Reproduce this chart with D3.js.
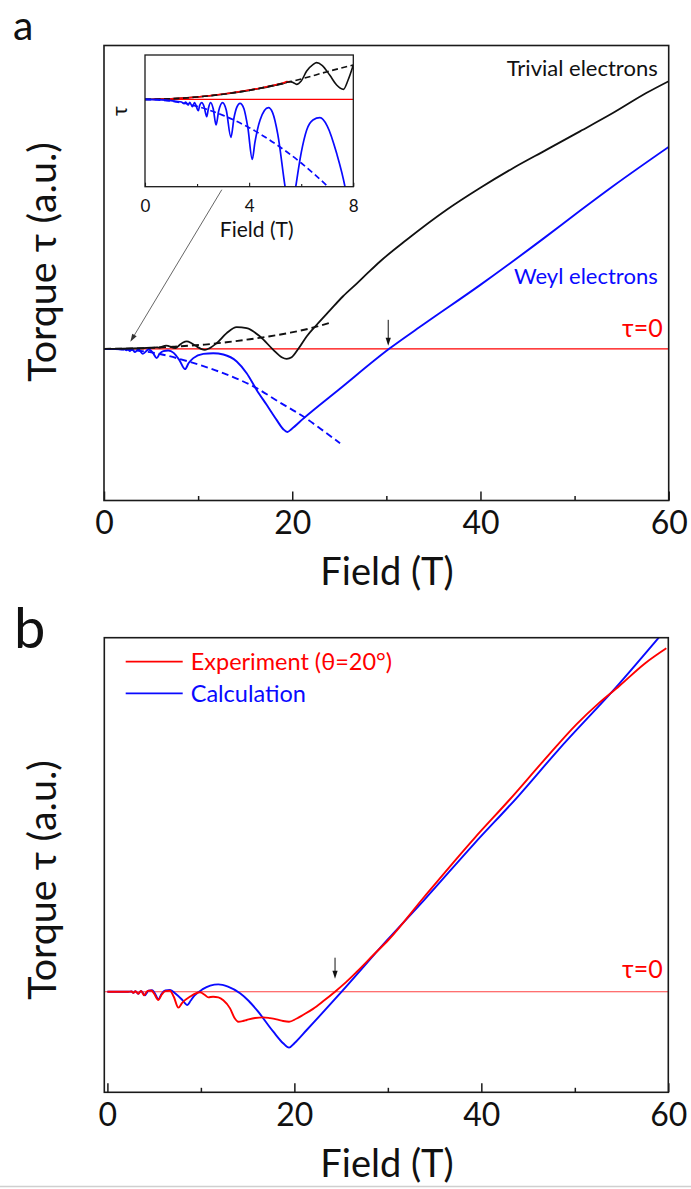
<!DOCTYPE html>
<html><head><meta charset="utf-8">
<script src="https://cdn.jsdelivr.net/npm/d3@7"></script>
<style>
html,body{margin:0;padding:0;background:#fff;}
svg{display:block;}
text{font-family:Lato,"Noto Sans",sans-serif;}
</style></head><body>
<svg id="fig" width="691" height="1189"></svg>
<script>
// ---------- panel a : torque vs field (arbitrary units) ----------
const trivialField  = [0, 2, 4, 5, 5.6, 5.8, 6.6, 7.6, 8.0, 8.4, 8.79, 9.3, 9.85, 10.3, 10.73, 11.2, 11.97, 13.03, 14.1, 15.16, 16.58, 17.99, 18.88, 19.41, 19.94, 20.65, 21.53, 22.6, 24.0, 25.4, 26.85, 28.0, 29.33, 32.16, 36.41, 39.95, 43.49, 47.04, 50.57, 54.11, 57.66, 60];
const trivialTorque = [0, 0.001, 0.006, 0.011, 0.015, 0.012, 0.031, 0.008, 0.035, 0.062, 0.073, 0.055, 0.023, 0.0, -0.01, 0.005, 0.056, 0.155, 0.215, 0.205, 0.122, -0.01, -0.083, -0.099, -0.083, 0.0, 0.122, 0.238, 0.38, 0.52, 0.645, 0.748, 0.864, 1.079, 1.376, 1.591, 1.789, 1.970, 2.151, 2.334, 2.532, 2.647];

const trivialBgField  = [0, 3, 5, 7.5, 10.7, 13, 15.5, 17.5, 19.8, 22, 24.2];
const trivialBgTorque = [0, 0.003, 0.009, 0.022, 0.042, 0.065, 0.095, 0.122, 0.160, 0.205, 0.264];

const weylField  = [0, 1, 1.5, 2.05, 2.18, 2.37, 2.52, 2.73, 2.98, 3.30, 3.65, 4.12, 4.74, 5.2, 5.6, 5.9, 6.3, 6.83, 7.4, 8.0, 8.61, 9.0, 9.49, 10.55, 11.61, 12.68, 14.1, 15.16, 16.22, 17.28, 18.34, 19.05, 19.48, 19.94, 21.18, 25.0, 30.3, 34.0, 39.95, 46.68, 50.57, 54.11, 60];
const weylTorque = [0, -0.001, -0.003, -0.009, -0.003, -0.014, -0.003, -0.021, -0.003, -0.032, -0.004, -0.05, -0.007, -0.04, -0.092, -0.05, -0.022, -0.017, -0.04, -0.11, -0.201, -0.14, -0.092, -0.05, -0.043, -0.056, -0.125, -0.241, -0.406, -0.554, -0.703, -0.795, -0.822, -0.792, -0.69, -0.40, 0.0, 0.245, 0.63, 1.09, 1.365, 1.61, 1.997];

const weylBgField  = [0, 3, 5.6, 9.14, 12.5, 16.22, 18.5, 21.18, 23, 25.08];
const weylBgTorque = [0, -0.012, -0.045, -0.13, -0.235, -0.389, -0.52, -0.67, -0.79, -0.934];

// ---------- inset : low-field detail ----------
const insetTrivialField  = [0, 1, 2, 3, 4, 4.5, 5, 5.3, 5.57, 5.7, 5.82, 6.0, 6.21, 6.45, 6.59, 6.8, 7.1, 7.36, 7.62, 7.8, 8.0];
const insetTrivialTorque = [0, 0.017, 0.07, 0.155, 0.27, 0.34, 0.42, 0.47, 0.53, 0.50, 0.45, 0.55, 0.85, 1.04, 1.10, 1.02, 0.72, 0.43, 0.30, 0.58, 1.03];

const insetTrivialBgField  = [0, 1, 2, 3, 4, 5, 6, 7, 8];
const insetTrivialBgTorque = [0, 0.017, 0.07, 0.155, 0.27, 0.43, 0.61, 0.83, 1.03];

const insetExpField  = [0.3, 1, 2, 3, 4, 4.5, 4.8, 5.1, 5.3, 5.45, 5.57];
const insetExpTorque = [0, 0.018, 0.07, 0.16, 0.28, 0.35, 0.40, 0.45, 0.49, 0.53, 0.52];

const insetWeylField  = [0, 0.5, 1.0, 1.2, 1.4, 1.5, 1.56, 1.66, 1.72, 1.82, 1.9, 2.05, 2.1, 2.18, 2.27, 2.37, 2.44, 2.52, 2.62, 2.73, 2.83, 2.98, 3.12, 3.30, 3.42, 3.52, 3.65, 3.8, 3.95, 4.12, 4.22, 4.42, 4.74, 4.9, 5.1, 5.38, 5.6, 5.79, 6.0, 6.21, 6.45, 6.72, 7.0, 7.36, 7.68, 8.0];
const insetWeylTorque = [0, -0.01, -0.04, -0.06, -0.08, -0.13, -0.08, -0.17, -0.09, -0.22, -0.10, -0.34, -0.18, -0.10, -0.22, -0.52, -0.25, -0.10, -0.28, -0.77, -0.35, -0.10, -0.32, -1.14, -0.55, -0.25, -0.12, -0.28, -0.85, -1.80, -1.3, -0.62, -0.25, -0.40, -1.05, -2.62, -3.6, -2.62, -1.6, -0.92, -0.62, -0.55, -0.8, -1.62, -2.62, -4.2];

const insetWeylBgField  = [0, 1, 2, 3, 4, 5, 6, 7, 7.2];
const insetWeylBgTorque = [0, -0.053, -0.21, -0.48, -0.85, -1.33, -1.91, -2.6, -2.75];

// ---------- panel b : experiment vs calculation ----------
const expField  = [0, 2.2, 2.6, 2.77, 3.0, 3.3, 3.6, 3.92, 4.3, 4.7, 5.0, 5.45, 5.8, 6.2, 6.7, 7.1, 7.59, 8.0, 8.84, 9.9, 10.4, 10.8, 11.3, 11.87, 12.4, 13.12, 13.6, 14.0, 14.5, 14.9, 15.8, 16.68, 17.4, 18.1, 18.8, 19.43, 20.2, 20.96, 22.0, 23.1, 24.35, 25.5, 26.66, 28.45, 30.05, 33.9, 39.25, 42.99, 46.6, 50.2, 52.6, 54.76, 57.43, 59.79];
const expTorque = [0, 0, 0.002, -0.012, 0.004, -0.02, 0.008, -0.035, 0.008, 0.012, -0.02, -0.082, -0.03, 0.005, 0.01, -0.05, -0.158, -0.11, -0.049, -0.006, -0.03, -0.056, -0.05, -0.056, -0.085, -0.165, -0.26, -0.297, -0.29, -0.28, -0.26, -0.254, -0.262, -0.274, -0.29, -0.297, -0.268, -0.228, -0.17, -0.093, 0, 0.092, 0.195, 0.363, 0.512, 0.94, 1.519, 1.898, 2.28, 2.65, 2.86, 3.027, 3.245, 3.40];

const calcField  = [0, 2.2, 2.6, 2.77, 3.0, 3.3, 3.6, 4.0, 4.4, 4.8, 5.1, 5.45, 5.8, 6.2, 6.7, 7.3, 8.0, 8.55, 8.9, 9.3, 10.2, 11.0, 11.87, 12.9, 14.19, 15.1, 15.97, 17.75, 18.8, 19.43, 20.0, 21.32, 25.06, 29.87, 33.9, 39.25, 43.89, 48.2, 54.76, 58.98];
const calcTorque = [0, 0, 0.002, -0.012, 0.004, -0.02, 0.008, -0.035, 0.01, 0.015, -0.02, -0.075, -0.02, 0.012, 0.017, -0.02, -0.08, -0.132, -0.09, -0.04, 0.025, 0.06, 0.073, 0.05, -0.016, -0.09, -0.18, -0.396, -0.51, -0.554, -0.51, -0.379, 0, 0.505, 0.91, 1.467, 1.93, 2.39, 3.05, 3.505];

const mainTicks   = [0, 20, 40, 60];
const mainMinor   = [10, 30, 50];
const insetTicks  = [0, 4, 8];
const insetMinor  = [2, 6];

// ---------- drawing ----------
const svg = d3.select("#fig");
const BLUE = "#0a0aff", RED = "#ff0000", INK = "#1a1a1a";
const pairs = (f, v) => d3.zip(f, v);

function plotLine(g, x, y, f, v, color, width, dash) {
  const line = d3.line().x(d => x(d[0])).y(d => y(d[1])).curve(d3.curveMonotoneX);
  const p = g.append("path").datum(pairs(f, v))
    .attr("d", line).attr("fill", "none")
    .attr("stroke", color).attr("stroke-width", width)
    .attr("stroke-linejoin", "round").attr("stroke-linecap", "butt");
  if (dash) p.attr("stroke-dasharray", dash);
  return p;
}

function clipRect(id, x0, y0, x1, y1) {
  svg.append("clipPath").attr("id", id).append("rect")
    .attr("x", x0).attr("y", y0).attr("width", x1 - x0).attr("height", y1 - y0);
}

function bottomAxis(yPos, x, major, minor, majLen, minLen, fs, pad, sw) {
  const g = svg.append("g").attr("transform", `translate(0,${yPos})`);
  g.call(d3.axisBottom(x).tickValues(major).tickSize(-majLen).tickPadding(pad).tickFormat(d3.format("d")));
  g.select(".domain").remove();
  g.selectAll(".tick line").attr("stroke", INK).attr("stroke-width", sw);
  g.selectAll(".tick text").attr("font-size", fs).attr("fill", "#111")
    .attr("font-family", "Lato, 'Noto Sans', sans-serif");
  const m = svg.append("g").attr("transform", `translate(0,${yPos})`);
  m.call(d3.axisBottom(x).tickValues(minor).tickSize(-minLen).tickFormat(""));
  m.select(".domain").remove();
  m.selectAll(".tick line").attr("stroke", INK).attr("stroke-width", sw);
  return g;
}

function downArrow(x, yTip, len, color) {
  svg.append("line").attr("x1", x).attr("x2", x).attr("y1", yTip - len).attr("y2", yTip - 5)
    .attr("stroke", color).attr("stroke-width", 1);
  svg.append("path").attr("d", `M${x - 2.6},${yTip - 8} L${x + 2.6},${yTip - 8} L${x},${yTip} Z`).attr("fill", color);
}

// ===== panel a =====
const xA = d3.scaleLinear().domain([0, 60]).range([104, 668.7]);
const yA = d3.scaleLinear().domain([-1.5, 3.0]).range([500.5, 45.5]);
clipRect("clipA", xA(0), yA(3.0), xA(60), yA(-1.5));

const gA = svg.append("g").attr("clip-path", "url(#clipA)");
gA.append("line").attr("x1", xA(0)).attr("x2", xA(60)).attr("y1", yA(0)).attr("y2", yA(0))
  .attr("stroke", RED).attr("stroke-width", 1.3);
plotLine(gA, xA, yA, trivialBgField, trivialBgTorque, "#111", 1.9, "7,4");
plotLine(gA, xA, yA, weylBgField, weylBgTorque, BLUE, 1.9, "7,4");
plotLine(gA, xA, yA, weylField, weylTorque, BLUE, 1.9);
plotLine(gA, xA, yA, trivialField, trivialTorque, "#111", 1.8);

svg.append("rect").attr("x", xA(0)).attr("y", yA(3.0)).attr("width", xA(60) - xA(0)).attr("height", yA(-1.5) - yA(3.0))
  .attr("fill", "none").attr("stroke", INK).attr("stroke-width", 1.6);
bottomAxis(yA(-1.5), xA, mainTicks, mainMinor, 9, 4.5, 32, 11, 1.5);

svg.append("text").attr("x", 13).attr("y", 39.5).attr("font-size", 41)
  .attr("font-family", "'DejaVu Sans', sans-serif").attr("fill", "#111").text("a");
svg.append("text").attr("x", 387).attr("y", 585).attr("text-anchor", "middle").attr("font-size", 38).attr("fill", "#111").text("Field (T)");
svg.append("text").attr("transform", "translate(56,262) rotate(-90)").attr("text-anchor", "middle")
  .attr("font-size", 39.5).attr("fill", "#111").text("Torque τ (a.u.)");
svg.append("text").attr("x", 657.7).attr("y", 75.7).attr("text-anchor", "end").attr("font-size", 22).attr("fill", "#111").text("Trivial electrons");
svg.append("text").attr("x", 657.7).attr("y", 284).attr("text-anchor", "end").attr("font-size", 22).attr("fill", BLUE).text("Weyl electrons");
svg.append("text").attr("x", 662.7).attr("y", 337.3).attr("text-anchor", "end").attr("font-size", 25).attr("fill", RED).text("τ=0");
downArrow(xA(30.2), yA(0) - 3, 26, "#111");

// ===== inset =====
const xI = d3.scaleLinear().domain([0, 8]).range([145, 353.3]);
const yI = d3.scaleLinear().domain([-2.62, 1.33]).range([186.7, 55]);
svg.append("rect").attr("x", xI(0)).attr("y", yI(1.33)).attr("width", xI(8) - xI(0)).attr("height", yI(-2.62) - yI(1.33)).attr("fill", "#fff");
clipRect("clipI", xI(0), yI(1.33), xI(8), yI(-2.62));
const gI = svg.append("g").attr("clip-path", "url(#clipI)");
gI.append("line").attr("x1", xI(0)).attr("x2", xI(8)).attr("y1", yI(0)).attr("y2", yI(0))
  .attr("stroke", RED).attr("stroke-width", 1.3);
plotLine(gI, xI, yI, insetTrivialField, insetTrivialTorque, "#111", 1.6);
plotLine(gI, xI, yI, insetExpField, insetExpTorque, RED, 1.6);
plotLine(gI, xI, yI, insetTrivialBgField, insetTrivialBgTorque, "#111", 1.6, "6,3.5");
plotLine(gI, xI, yI, insetWeylBgField, insetWeylBgTorque, BLUE, 1.7, "6,3.5");
plotLine(gI, xI, yI, insetWeylField, insetWeylTorque, BLUE, 1.7);
svg.append("rect").attr("x", xI(0)).attr("y", yI(1.33)).attr("width", xI(8) - xI(0)).attr("height", yI(-2.62) - yI(1.33))
  .attr("fill", "none").attr("stroke", INK).attr("stroke-width", 1.3);
bottomAxis(yI(-2.62), xI, insetTicks, insetMinor, 4, 2.7, 17, 13, 1.1);
svg.append("text").attr("x", 256.7).attr("y", 236.7).attr("text-anchor", "middle").attr("font-size", 21).attr("fill", "#111").text("Field (T)");
svg.append("text").attr("transform", "translate(127,111) rotate(-90)").attr("text-anchor", "middle")
  .attr("font-size", 21).attr("fill", "#111").text("τ");

// connector from inset to the low-field region of panel a
{
  const x1 = xI(2.95), y1 = yI(-2.62) + 3, x2 = xA(2.8), y2 = yA(0) - 7;
  const ang = Math.atan2(y2 - y1, x2 - x1), L = 8, W = 2.6;
  const bx = x2 - L * Math.cos(ang), by = y2 - L * Math.sin(ang);
  svg.append("line").attr("x1", x1).attr("y1", y1).attr("x2", bx).attr("y2", by)
    .attr("stroke", "#555").attr("stroke-width", 0.9);
  svg.append("path").attr("d",
    `M${x2},${y2} L${bx + W * Math.sin(ang)},${by - W * Math.cos(ang)} L${bx - W * Math.sin(ang)},${by + W * Math.cos(ang)} Z`)
    .attr("fill", "#333");
}

// ===== panel b =====
const xB = d3.scaleLinear().domain([0, 60]).range([107.4, 668.3]);
const yB = d3.scaleLinear().domain([-1, 3.5]).range([1092.7, 638.2]);
const bLeft = 104.3, bRight = 668.3, bTop = 637.7, bBottom = 1092.3;
clipRect("clipB", bLeft, bTop, bRight, bBottom);
const gB = svg.append("g").attr("clip-path", "url(#clipB)");
gB.append("line").attr("x1", bLeft).attr("x2", bRight).attr("y1", yB(0)).attr("y2", yB(0))
  .attr("stroke", "#ff4040").attr("stroke-width", 1.1);
plotLine(gB, xB, yB, calcField, calcTorque, BLUE, 1.9);
plotLine(gB, xB, yB, expField, expTorque, RED, 1.9);
svg.append("rect").attr("x", bLeft).attr("y", bTop).attr("width", bRight - bLeft).attr("height", bBottom - bTop)
  .attr("fill", "none").attr("stroke", INK).attr("stroke-width", 1.6);
bottomAxis(bBottom, xB, mainTicks, mainMinor, 9, 4.5, 32, 11, 1.5);

svg.append("text").attr("x", 14).attr("y", 648.3).attr("font-size", 56).attr("fill", "#111").text("b");
svg.append("text").attr("x", 387).attr("y", 1177.3).attr("text-anchor", "middle").attr("font-size", 38).attr("fill", "#111").text("Field (T)");
svg.append("text").attr("transform", "translate(56,880) rotate(-90)").attr("text-anchor", "middle")
  .attr("font-size", 39.5).attr("fill", "#111").text("Torque τ (a.u.)");
svg.append("text").attr("x", 662.7).attr("y", 978.3).attr("text-anchor", "end").attr("font-size", 25).attr("fill", RED).text("τ=0");
downArrow(xB(24.35), yB(0) - 13, 21, "#111");

// legend
const legend = [
  { label: "Experiment (θ=20°)", color: RED, y: 661.7 },
  { label: "Calculation", color: BLUE, y: 693.3 }
];
legend.forEach(d => {
  svg.append("line").attr("x1", 125.7).attr("x2", 182.7).attr("y1", d.y).attr("y2", d.y)
    .attr("stroke", d.color).attr("stroke-width", 1.8);
  svg.append("text").attr("x", 190.7).attr("y", d.y + 8.5).attr("font-size", 23.5).attr("fill", d.color).text(d.label);
});

// faint rule along the bottom edge
svg.append("line").attr("x1", 0).attr("x2", 691).attr("y1", 1186.5).attr("y2", 1186.5)
  .attr("stroke", "#cfcfcf").attr("stroke-width", 1.5);
</script>
</body></html>
